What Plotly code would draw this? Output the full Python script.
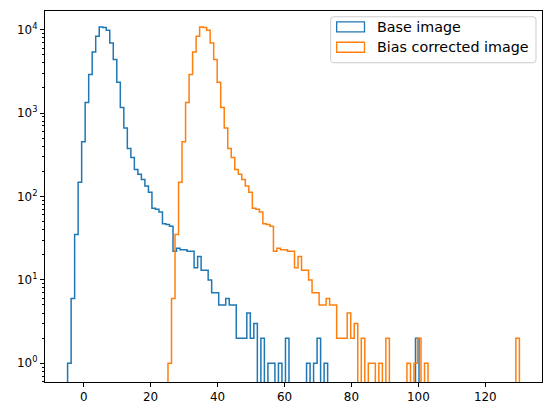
import numpy as np
import plotly.graph_objects as go

# ---- data ----
base_range = (-4.8, 100.2)        # histogram range of the base image (100 bins)
corrected_range = (25.2, 130.2)   # histogram range of the bias-corrected image (100 bins)

base_counts = [1, 6, 35, 148, 451, 1336, 2892, 5395, 8317, 10740,
               10600, 9810, 6915, 4370, 2338, 1164, 663, 376, 293, 211,
               185, 160, 133, 112, 72, 70, 65, 47, 46, 44,
               22, 24, 23, 23, 22, 22, 14, 19, 13, 13,
               10, 7, 7, 5, 5, 6, 5, 5, 2, 2,
               2, 4, 2, 3, 0, 2, 0, 1, 1, 0,
               1, 0, 2, 0, 0, 0, 0, 0, 1, 0,
               1, 2, 0, 1, 0, 0, 0, 0, 0, 0,
               0, 0, 0, 0, 0, 0, 0, 0, 0, 0,
               0, 0, 0, 0, 0, 0, 0, 0, 0, 2]

corrected_counts = [1, 6, 35, 148, 451, 1336, 2892, 5395, 8317, 10740,
                    10600, 9810, 6915, 4370, 2338, 1164, 663, 376, 293, 211,
                    185, 160, 133, 112, 72, 70, 65, 47, 46, 44,
                    22, 24, 23, 23, 22, 22, 14, 19, 13, 13,
                    10, 7, 7, 5, 5, 6, 5, 5, 2, 2,
                    2, 4, 2, 3, 0, 2, 0, 1, 1, 0,
                    1, 0, 2, 0, 0, 0, 0, 0, 1, 0,
                    1, 2, 0, 1, 0, 0, 0, 0, 0, 0,
                    0, 0, 0, 0, 0, 0, 0, 0, 0, 0,
                    0, 0, 0, 0, 0, 0, 0, 0, 0, 2]

series_names = ["Base image", "Bias corrected image"]
colors = ["#1f77b4", "#ff7f0e"]

x_ticks = [0, 20, 40, 60, 80, 100, 120]
y_ticks = [1, 10, 100, 1000, 10000]
y_tick_text = ["10<sup>0</sup>", "10<sup>1</sup>", "10<sup>2</sup>", "10<sup>3</sup>", "10<sup>4</sup>"]

FLOOR = 1e-3  # zero counts drop below the visible log range


def step_xy(rng, counts):
    edges = np.linspace(rng[0], rng[1], len(counts) + 1)
    c = [v if v > 0 else FLOOR for v in counts]
    xs = [edges[0]] + list(edges[:-1]) + [edges[-1], edges[-1]]
    ys = [FLOOR] + c + [c[-1], FLOOR]
    return xs, ys


fig = go.Figure()
for rng, counts, name, col in [(base_range, base_counts, series_names[0], colors[0]),
                               (corrected_range, corrected_counts, series_names[1], colors[1])]:
    xs, ys = step_xy(rng, counts)
    fig.add_trace(go.Scatter(x=xs, y=ys, mode="lines", line=dict(color=col, width=1.5, shape="hv"),
                             name=name, showlegend=False, hoverinfo="skip"))

FONT = "DejaVu Sans"
L, R, T, B = 45, 541.7, 10.7, 382.0
W, H = 550, 413

minor_vals = []
for d in [0.1, 1, 10, 100, 1000, 10000]:
    for k in range(2, 10):
        minor_vals.append(k * d)

fig.update_layout(
    width=W, height=H,
    margin=dict(l=L, r=W - R, t=T, b=H - B, pad=0),
    paper_bgcolor="white", plot_bgcolor="white",
    font=dict(family=FONT, size=11.9, color="black"),
    showlegend=False,
    xaxis=dict(range=[-11.55, 136.95], tickvals=x_ticks, ticks="outside", ticklen=4.2, tickwidth=0.9,
               tickcolor="black", showgrid=False, zeroline=False, showline=True, linecolor="black",
               linewidth=0.9, mirror=True, tickfont=dict(family=FONT, size=11.9, color="black")),
    yaxis=dict(type="log", range=[np.log10(0.597), np.log10(16700)], tickvals=y_ticks, ticktext=y_tick_text,
               ticks="outside", ticklen=4.2, tickwidth=0.9, tickcolor="black", showgrid=False,
               zeroline=False, showline=True, linecolor="black", linewidth=0.9, mirror=True,
               tickfont=dict(family=FONT, size=11.9, color="black"),
               minor=dict(tickvals=minor_vals, ticks="outside", ticklen=2.4, tickwidth=0.7,
                          tickcolor="black", showgrid=False)),
)


# ---- legend drawn manually to mimic matplotlib patches ----
def px(x):
    return (x - L) / (R - L)


def py(y):
    return (B - y) / (B - T)


def rounded_box(x0, y0, x1, y1, r):
    # pixel coords (y downwards) -> paper-coordinate SVG path with rounded corners
    def p(x, y):
        return f"{px(x):.5f},{py(y):.5f}"
    return (f"M {p(x0 + r, y0)} L {p(x1 - r, y0)} Q {p(x1, y0)} {p(x1, y0 + r)} "
            f"L {p(x1, y1 - r)} Q {p(x1, y1)} {p(x1 - r, y1)} L {p(x0 + r, y1)} "
            f"Q {p(x0, y1)} {p(x0, y1 - r)} L {p(x0, y0 + r)} Q {p(x0, y0)} {p(x0 + r, y0)} Z")


LEG_FONT = 14.3
shapes = [dict(type="path", xref="paper", yref="paper", path=rounded_box(330.5, 16.5, 535.7, 62.5, 3.0),
               line=dict(color="#cccccc", width=1), fillcolor="rgba(255,255,255,0.8)", layer="above")]
annotations = []
rows = [26.5, 47.0]
for i, (name, col) in enumerate(zip(series_names, colors)):
    yc = rows[i]
    shapes.append(dict(type="rect", xref="paper", yref="paper", x0=px(336.5), x1=px(364.3),
                       y0=py(yc + 5.0), y1=py(yc - 5.0), line=dict(color=col, width=1.3),
                       fillcolor="rgba(0,0,0,0)", layer="above"))
    annotations.append(dict(xref="paper", yref="paper", x=px(374.5), y=py(yc), text=name, showarrow=False,
                            xanchor="left", yanchor="middle",
                            font=dict(family=FONT, size=LEG_FONT, color="black")))
fig.update_layout(shapes=shapes, annotations=annotations)

fig.write_html("out.html")
